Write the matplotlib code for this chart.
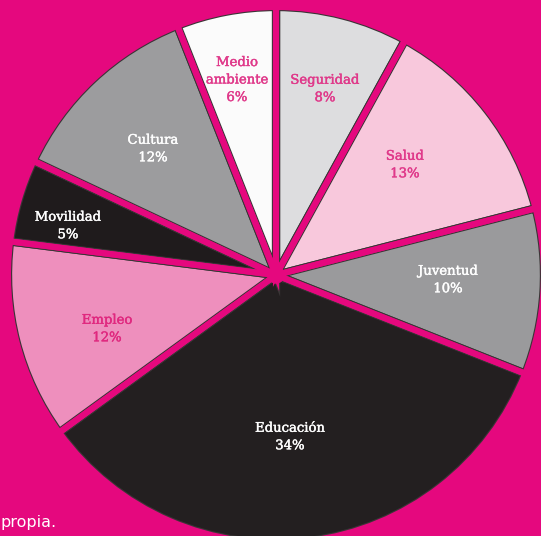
import numpy as np
import matplotlib.pyplot as plt
import matplotlib.patheffects as pe
from matplotlib.patches import Wedge

# pie data, clockwise from 12 o'clock
labels = ["Seguridad", "Salud", "Juventud", "Educación", "Empleo",
          "Movilidad", "Cultura", "Medio\nambiente"]
shares = [8, 13, 10, 34, 12, 5, 12, 6]

colors = ["#DDDDDF", "#F8C8DC", "#9A9A9C", "#231F20", "#EE8FBD",
          "#1F1B1C", "#9C9C9E", "#FBFBFB"]
text_colors = ["#E0398A", "#E0398A", "#FFFFFF", "#FFFFFF", "#E0287F",
               "#FFFFFF", "#FFFFFF", "#E0398A"]
# label centres in image pixels (x, y from top)
label_pos = [(325, 89), (405, 165), (448, 280), (290, 437), (107, 329),
             (68, 226), (153, 149), (237, 80)]

W, H = 541, 536
magenta = "#E5087E"
cx, cy = 276, H - 275
R = 268

fig = plt.figure(figsize=(W / 100, H / 100), dpi=100)
fig.patch.set_facecolor(magenta)
ax = fig.add_axes([0, 0, 1, 1])
ax.set_facecolor(magenta)

# first pass: fills with a dark outline
ax.pie(shares, colors=colors, startangle=90, counterclock=False,
       center=(cx, cy), radius=R, frame=True,
       wedgeprops=dict(edgecolor="#3A3536", linewidth=6))
# second pass: magenta gaps on top of the outline
ax.pie(shares, colors=["none"] * len(shares), startangle=90, counterclock=False,
       center=(cx, cy), radius=R, frame=True,
       wedgeprops=dict(edgecolor=magenta, linewidth=4.4, fill=False))
# hide the outline outside the rim
ax.add_patch(Wedge((cx, cy), R + 80, 0, 360, width=80, color=magenta, zorder=4))
ax.add_patch(plt.Circle((cx, cy), 8, color=magenta, zorder=5))

for lab, pct, col, (x, y) in zip(labels, shares, text_colors, label_pos):
    ax.text(x, H - y, f"{lab}\n{pct}%", color=col, ha="center", va="center",
            fontsize=9.5, family="DejaVu Serif", linespacing=1.45, zorder=6,
            path_effects=[pe.withStroke(linewidth=0.3, foreground=col)])

ax.text(0, H - 522, "propia.", color="white", fontsize=11.5,
        family="DejaVu Sans", ha="left", va="center", zorder=6)

ax.set_xlim(0, W)
ax.set_ylim(0, H)
ax.set_aspect("auto")
ax.axis("off")

fig.savefig("out.png", dpi=100, facecolor=magenta)
